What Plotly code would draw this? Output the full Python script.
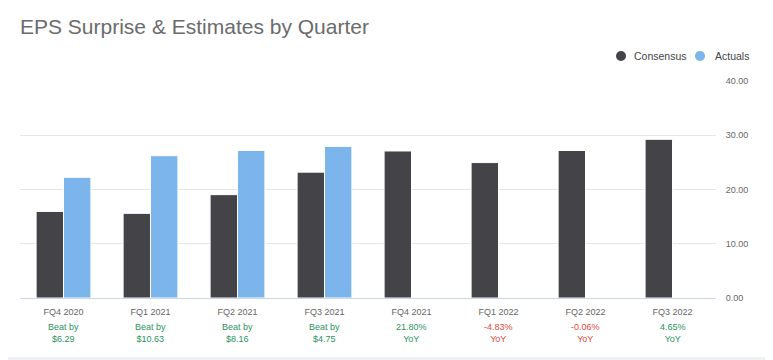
import plotly.graph_objects as go

quarters = ["FQ4 2020", "FQ1 2021", "FQ2 2021", "FQ3 2021",
            "FQ4 2021", "FQ1 2022", "FQ2 2022", "FQ3 2022"]
consensus = [15.96, 15.60, 19.05, 23.20, 27.10, 24.96, 27.19, 29.25]
actuals = [22.25, 26.23, 27.21, 27.95, None, None, None, None]
notes_top = ["Beat by", "Beat by", "Beat by", "Beat by", "21.80%", "-4.83%", "-0.06%", "4.65%"]
notes_bottom = ["$6.29", "$10.63", "$8.16", "$4.75", "YoY", "YoY", "YoY", "YoY"]
note_positive = [True, True, True, True, True, False, False, True]
y_ticks = [0, 10, 20, 30, 40]
series_names = ["Consensus", "Actuals"]

DARK = "#434348"
BLUE = "#7cb5ec"
GREEN = "#2a9361"
RED = "#e0493b"
FONT = "Liberation Sans, Arial, sans-serif"

# page body has an 8px margin: figure is 765x352 placed at (8, 8)
W, H = 765, 352
ML, MR, MT, MB = 12, 57, 73, 62
PW, PH = W - ML - MR, H - MT - MB


def px_x(xw):  # window x -> paper x
    return (xw - 8 - ML) / PW


def px_y(yw):  # window y -> paper y
    return (H - MB - (yw - 8)) / PH


fig = go.Figure()
fig.add_trace(go.Bar(x=quarters, y=consensus, name=series_names[0], marker_color=DARK,
                     marker_line_color="white", marker_line_width=1, showlegend=False))
fig.add_trace(go.Bar(x=quarters, y=actuals, name=series_names[1], marker_color=BLUE,
                     marker_line_color="white", marker_line_width=1, showlegend=False))

for q, t, b, pos in zip(quarters, notes_top, notes_bottom, note_positive):
    fig.add_annotation(x=q, xref="x", yref="paper", y=px_y(320), yanchor="top",
                       text=f"{t}<br>{b}", showarrow=False,
                       font=dict(family=FONT, size=9, color=GREEN if pos else RED))

# custom legend (circle + label)
legend_items = [(series_names[0], DARK, 621, 632), (series_names[1], BLUE, 700, 713)]
shapes = []
for name, col, cx, tx in legend_items:
    shapes.append(dict(type="circle", xref="paper", yref="paper",
                       xsizemode="pixel", ysizemode="pixel",
                       xanchor=px_x(cx), yanchor=px_y(56),
                       x0=-5, x1=5, y0=-5, y1=5, fillcolor=col, line_width=0))
    fig.add_annotation(x=px_x(tx), y=px_y(56), xref="paper", yref="paper",
                       xanchor="left", yanchor="middle", text=name, showarrow=False,
                       font=dict(family=FONT, size=10.5, color="#444444"))

shapes += [
    dict(type="rect", xref="paper", yref="paper", x0=px_x(770), x1=px_x(800),
         y0=-0.6, y1=1.6, fillcolor="#f0f1f4", line_width=0, layer="below"),
    dict(type="rect", xref="paper", yref="paper", x0=-0.1, x1=1.2,
         y0=-0.6, y1=px_y(357), fillcolor="#f0f1f4", line_width=0, layer="below"),
]

fig.update_layout(
    width=W, height=H,
    margin=dict(l=ML, r=MR, t=MT, b=MB),
    paper_bgcolor="white", plot_bgcolor="white",
    barmode="group", bargap=0.37, bargroupgap=0,
    showlegend=False,
    font=dict(family=FONT, color="#666666"),
    title=dict(text="EPS Surprise & Estimates by Quarter", xref="container", x=12 / W,
               xanchor="left", yref="container", y=1 - 19 / H, yanchor="middle",
               font=dict(family=FONT, size=21, color="#6b6b6b")),
    xaxis=dict(showgrid=False, showline=True, linecolor="#ccd6eb", linewidth=1,
               ticks="outside", ticklen=5, tickcolor="rgba(0,0,0,0)",
               tickfont=dict(family=FONT, size=9, color="#666666"),
               fixedrange=True),
    yaxis=dict(side="right", range=[0, 40], tickvals=y_ticks, tickformat=".2f",
               showgrid=True, gridcolor="#e6e6e6", gridwidth=1, zeroline=False,
               ticks="outside", ticklen=7, tickcolor="rgba(0,0,0,0)",
               tickfont=dict(family=FONT, size=9, color="#666666"), fixedrange=True),
    shapes=shapes,
)

fig.write_html("out.html")
